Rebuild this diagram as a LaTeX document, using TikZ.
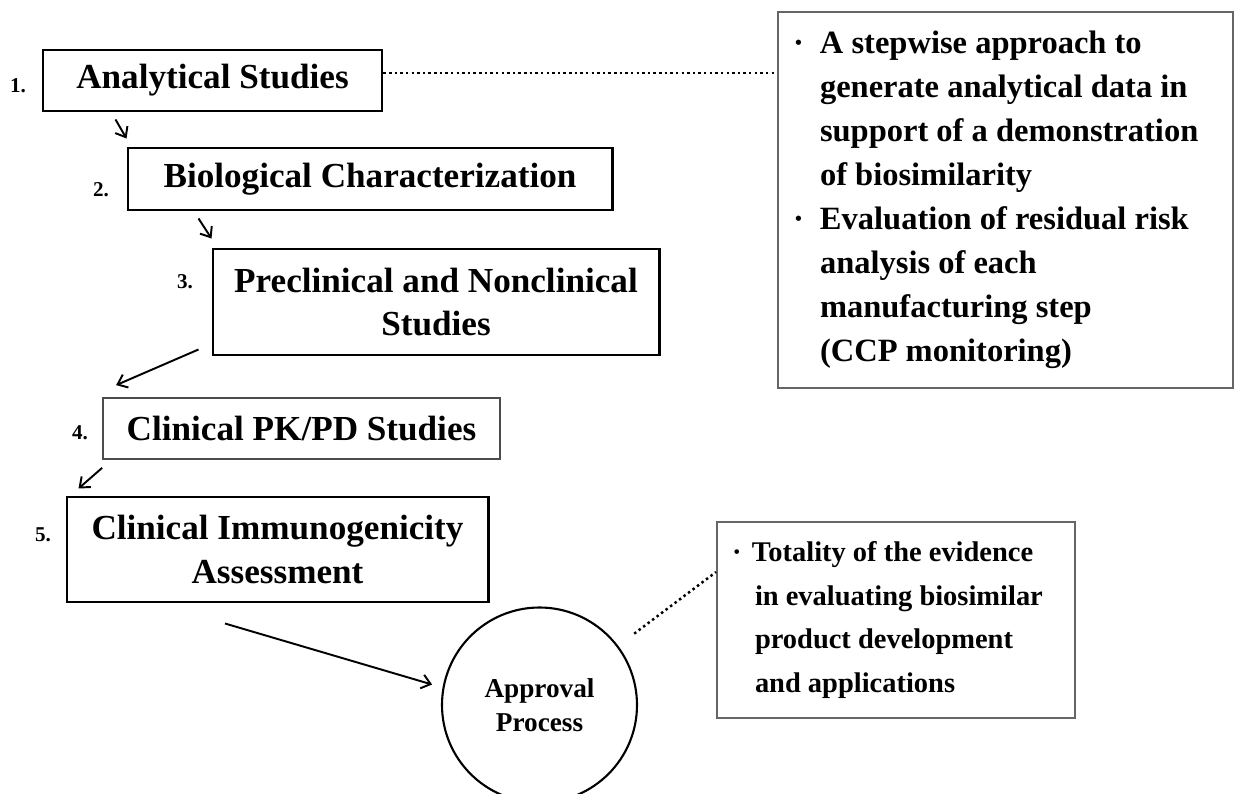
\documentclass[tikz,border=0pt]{standalone}
\usepackage{fontspec}
\setmainfont{Liberation Serif}
\usetikzlibrary{arrows.meta, positioning}
\newcommand{\bul}{\makebox[0.54cm][l]{·}}
\newcommand{\ind}{\hspace*{0.54cm}}

\begin{document}
\begin{tikzpicture}[
    arr/.style={-{Straight Barb[length=5pt, width=8pt]}, line width=1.1pt},
    link/.style={line width=1.4pt, dash pattern=on 1.4pt off 1.8pt},
    box/.style={draw, line width=1.7pt, align=center, font=\fontsize{20}{24.5}\selectfont\bfseries},
    numlbl/.style={font=\fontsize{12}{14}\selectfont\bfseries},
    notebox/.style={draw=black!60, line width=1.1pt, align=flush left, inner xsep=0.3cm, font=\fontsize{18.5}{25}\selectfont\bfseries},
]
\useasboundingbox (0,0) rectangle (24.68,-15.88);
% === Stages ===
\node[box, minimum width=6.78cm, minimum height=1.22cm] (ana) at (4.25, -1.61) {Analytical Studies};
\node[box, minimum width=9.68cm, minimum height=1.24cm] (bio) at (7.40, -3.58) {Biological Characterization};
\node[box, minimum width=8.92cm, minimum height=2.12cm] (pre) at (8.72, -6.04) {Preclinical and Nonclinical\\Studies};
\node[box, draw=black!70, line width=1pt, minimum width=7.94cm, minimum height=1.22cm] (pkpd) at (6.03, -8.57) {Clinical PK/PD Studies};
\node[box, minimum width=8.42cm, minimum height=2.10cm] (immu) at (5.55, -10.99) {Clinical Immunogenicity\\Assessment};
% === Numbers ===
\node[numlbl] (n1) at (0.36, -1.72) {1.};
\node[numlbl] (n2) at (2.02, -3.80) {2.};
\node[numlbl] (n3) at (3.70, -5.64) {3.};
\node[numlbl] (n4) at (1.60, -8.66) {4.};
\node[numlbl] (n5) at (0.86, -10.70) {5.};
% === Approval ===
\node[draw, circle, line width=1.2pt, minimum size=3.9cm, align=center, font=\fontsize{15.5}{19.5}\selectfont\bfseries] (appr) at (10.79, -14.10) {Approval\\Process};
% === Notes ===
\node[notebox, text width=8.5cm, minimum height=7.52cm] (notes) at (20.11, -4.00) {%
\bul A stepwise approach to\\
\ind generate analytical data in\\
\ind support of a demonstration\\
\ind of biosimilarity\\
\bul Evaluation of residual risk\\
\ind analysis of each\\
\ind manufacturing step\\
\ind (CCP monitoring)};
\node[notebox, text width=6.56cm, minimum height=3.92cm, font=\fontsize{16.2}{25}\selectfont\bfseries] (total) at (17.92, -12.40) {%
\makebox[0.4cm][l]{·}Totality of the evidence\\
\hspace*{0.46cm}in evaluating biosimilar\\
\hspace*{0.46cm}product development\\
\hspace*{0.46cm}and applications};
% === Arrows ===
\draw[arr] ([shift={(1.48,-0.14)}]ana.south west) -- ([shift={(0,0.16)}]bio.north west);
\draw[arr] ([shift={(1.44,-0.14)}]bio.south west) -- ([shift={(0,0.18)}]pre.north west);
\draw[arr] ([shift={(-0.26,0.14)}]pre.south west) -- ([shift={(0.28,0.24)}]pkpd.north west);
\draw[arr] ([shift={(0,-0.16)}]pkpd.south west) -- ([shift={(0.26,0.14)}]immu.north west);
\draw[arr] ([shift={(-1.05,-0.40)}]immu.south) -- ([xshift=-0.22cm]appr.168);
% === Dotted links ===
\draw[link] ([yshift=0.15cm]ana.east) -- ([yshift=0.15cm]ana.east -| notes.west);
\draw[link] ([shift={(37:0.4cm)}]appr.37) -- ([yshift=0.96cm]total.west);
\end{tikzpicture}
\end{document}
